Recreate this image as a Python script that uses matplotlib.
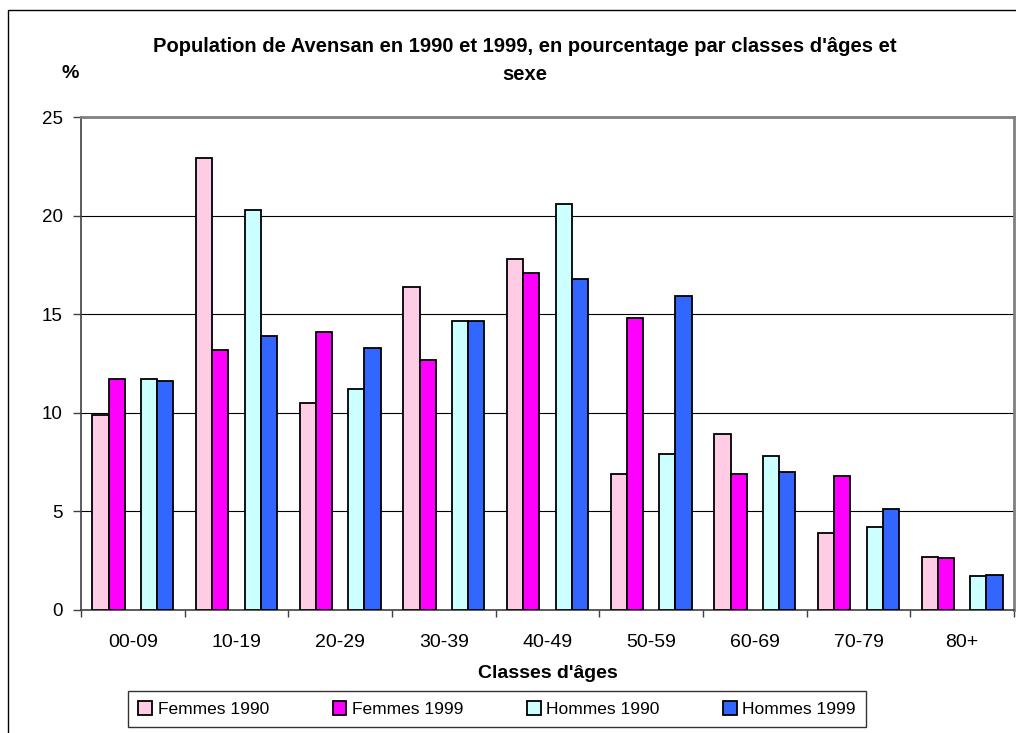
"""
Population de Avensan 1990/1999 par classes d'ages et sexe - histogramme groupe.
"""

import matplotlib.pyplot as plt
import numpy as np
from matplotlib.patches import Patch, Rectangle

plt.rcParams["font.family"] = ["Liberation Sans", "DejaVu Sans"]

CLASSES = ["00-09", "10-19", "20-29", "30-39", "40-49", "50-59", "60-69", "70-79", "80+"]
FEMMES_1990 = [9.9, 22.9, 10.5, 16.4, 17.8, 6.9, 8.9, 3.9, 2.7]
FEMMES_1999 = [11.7, 13.2, 14.1, 12.7, 17.1, 14.8, 6.9, 6.8, 2.65]
HOMMES_1990 = [11.7, 20.3, 11.2, 14.65, 20.6, 7.9, 7.8, 4.2, 1.7]
HOMMES_1999 = [11.6, 13.9, 13.3, 14.65, 16.8, 15.9, 7.0, 5.1, 1.8]

SERIES = [
    ("Femmes 1990", FEMMES_1990, "#FFCCE6", 0),
    ("Femmes 1999", FEMMES_1999, "#FF00FF", 1),
    ("Hommes 1990", HOMMES_1990, "#CCFFFF", 3),
    ("Hommes 1999", HOMMES_1999, "#3366FF", 4),
]

W, H = 1016, 733
fig = plt.figure(figsize=(W / 100, H / 100), dpi=100)

# cadre exterieur du graphique
fig.patches.append(
    Rectangle((8 / W, -0.1), 1.2, 1 - 10 / H + 0.1, transform=fig.transFigure,
              fill=False, edgecolor="black", linewidth=1.0)
)

left, right, top, bottom = 81, 1014, 117, 610
ax = fig.add_axes([left / W, 1 - bottom / H, (right - left) / W, (bottom - top) / H])

x = np.arange(len(CLASSES))
bw = 0.156
for label, vals, color, slot in SERIES:
    ax.bar(x + (slot - 2) * bw, vals, width=bw, color=color, edgecolor="black",
           linewidth=1.3, label=label, zorder=3)

ax.set_xlim(-0.5, len(CLASSES) - 0.5)
ax.set_ylim(0, 25)
ax.set_yticks(range(0, 26, 5))
ax.yaxis.grid(True, color="black", linewidth=0.8, zorder=0)
ax.set_axisbelow(True)

ax.set_xticks(x)
ax.set_xticklabels(CLASSES, fontsize=14)
ax.set_xticks(np.arange(-0.5, len(CLASSES)), minor=True)
ax.tick_params(axis="x", which="major", length=0, pad=17)
ax.tick_params(axis="x", which="minor", length=5, width=1, color="#404040")
ax.tick_params(axis="y", length=6, width=1, color="#404040", labelsize=13.5, pad=7)

for side in ["top", "right"]:
    ax.spines[side].set_color("#808080")
    ax.spines[side].set_linewidth(2)
for side in ["left", "bottom"]:
    ax.spines[side].set_color("#404040")
    ax.spines[side].set_linewidth(1.2)

ax.set_xlabel("Classes d'âges", fontsize=14, fontweight="bold", labelpad=10)

fig.text(525 / W, 1 - 47 / H,
         "Population de Avensan en 1990 et 1999, en pourcentage par classes d'âges et",
         ha="center", va="center", fontsize=14.5, fontweight="bold")
fig.text(525 / W, 1 - 74 / H, "sexe", ha="center", va="center",
         fontsize=14.5, fontweight="bold")
fig.text(70 / W, 1 - 74 / H, "%", ha="center", va="center",
         fontsize=14, fontweight="bold")

handles = [Patch(facecolor=c, edgecolor="black", linewidth=1.3, label=l)
           for l, _, c, _ in SERIES]
leg = fig.legend(handles=handles, loc="upper left", ncol=4, mode="expand",
                 bbox_to_anchor=(128 / W, 1 - 691 / H, 738 / W, 0.0001),
                 fontsize=12.5, frameon=True, fancybox=False, edgecolor="black",
                 handlelength=0.8, handleheight=0.8, handletextpad=0.3,
                 borderpad=0.6, borderaxespad=0)
leg.get_frame().set_linewidth(1.0)

fig.savefig("out.png", dpi=100)
